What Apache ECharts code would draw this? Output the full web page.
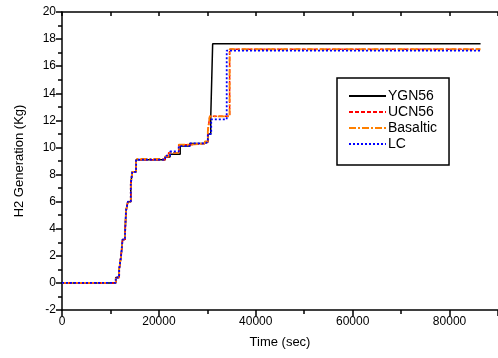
<!DOCTYPE html>
<html>
<head>
<meta charset="utf-8">
<script src="https://cdn.jsdelivr.net/npm/echarts@6/dist/echarts.min.js"></script>
<style>
  html, body { margin: 0; padding: 0; background: #fff; }
  #ec { width: 498px; height: 358px; }
</style>
</head>
<body>
<div id="ec"></div>
<script>
// values: time (sec) where each step happens, new level (Kg)
var ygnTime = [0, 11100, 11800, 12200, 12500, 13000, 13200, 13600, 14200, 14500, 15300, 20600, 21300, 22300, 24400, 26400, 29500, 30100, 30700, 31100, 86400];
var ygnVal  = [0, 0.4, 1.0, 2.0, 3.2, 3.5, 5.3, 6.0, 7.3, 8.2, 9.1, 9.1, 9.3, 9.5, 10.1, 10.3, 10.4, 11.0, 12.2, 17.65, 17.65];

var ucnTime = [0, 11100, 11800, 12200, 12500, 13000, 13200, 13600, 14200, 14500, 15300, 20600, 21300, 22000, 24100, 26400, 29500, 30100, 30500, 34600, 86400];
var ucnVal  = [0, 0.4, 1.0, 2.0, 3.2, 3.5, 5.3, 6.0, 7.3, 8.2, 9.1, 9.1, 9.3, 9.6, 10.2, 10.3, 10.4, 11.2, 12.3, 17.25, 17.25];

var basTime = [0, 11100, 11800, 12200, 12500, 13000, 13200, 13600, 14200, 14500, 15300, 20600, 21300, 22000, 24100, 26400, 29500, 30100, 30500, 34600, 86400];
var basVal  = [0, 0.4, 1.0, 2.0, 3.2, 3.5, 5.3, 6.0, 7.3, 8.2, 9.15, 9.15, 9.35, 9.6, 10.2, 10.3, 10.45, 11.2, 12.3, 17.25, 17.25];

var lcTime = [0, 11100, 11800, 12200, 12500, 13000, 13200, 13600, 14200, 14500, 15300, 20600, 21300, 22300, 24100, 26400, 29500, 30100, 30800, 34000, 86400];
var lcVal  = [0, 0.4, 1.0, 2.0, 3.2, 3.5, 5.3, 6.0, 7.3, 8.2, 9.1, 9.1, 9.4, 9.7, 10.1, 10.3, 10.4, 11.0, 12.07, 17.15, 17.15];

var seriesNames = ['YGN56', 'UCN56', 'Basaltic', 'LC'];
var yTicks = [-2, 0, 2, 4, 6, 8, 10, 12, 14, 16, 18, 20];

function pairs(t, v) {
    return t.map(function (x, i) { return [x, v[i]]; });
}

var myChart = echarts.init(document.getElementById('ec'));
var font = 'Liberation Sans, Arial, sans-serif';

function mkSeries(name, t, v, color, type, width) {
    return {
        name: name,
        type: 'line',
        step: 'end',
        symbol: 'none',
        data: pairs(t, v),
        lineStyle: { color: color, width: width, type: type },
        itemStyle: { color: color },
        animation: false
    };
}

var option = {
    backgroundColor: '#fff',
    textStyle: { fontFamily: font },
    grid: { left: 62, top: 12, right: 0, bottom: 48, containLabel: false, outerBoundsMode: 'none' },
    legend: {
        orient: 'vertical',
        left: 337,
        top: 78,
        padding: [11, 12, 14, 11],
        itemGap: 2,
        itemWidth: 37,
        itemHeight: 14,
        borderColor: '#000',
        borderWidth: 1.5,
        itemStyle: { color: 'transparent', borderWidth: 0 },
        textStyle: { fontSize: 14, color: '#000', fontFamily: font, padding: [0, 0, 0, -3] },
        data: seriesNames
    },
    xAxis: [{
        type: 'value',
        min: 0,
        max: 90000,
        interval: 20000,
        name: 'Time (sec)',
        nameLocation: 'middle',
        nameGap: 26,
        nameTextStyle: { fontSize: 13, color: '#000', fontFamily: font },
        axisLine: { onZero: false, lineStyle: { color: '#000', width: 1.5 } },
        axisTick: { inside: false, length: 6, lineStyle: { color: '#000', width: 1.5 } },
        minorTick: { show: true, splitNumber: 2, length: 4, lineStyle: { color: '#000', width: 1.5 } },
        axisLabel: { fontSize: 12, color: '#000', margin: 6, fontFamily: font, showMaxLabel: false,
            formatter: function (v) { return v >= 90000 ? '' : String(v); } },
        splitLine: { show: false }
    }, {
        type: 'value',
        position: 'top',
        min: 0,
        max: 90000,
        interval: 10000,
        axisLine: { onZero: false, lineStyle: { color: '#000', width: 1.5 } },
        axisTick: { inside: true, length: 4, lineStyle: { color: '#000', width: 1.5 } },
        axisLabel: { show: false },
        splitLine: { show: false }
    }],
    yAxis: {
        type: 'value',
        min: yTicks[0],
        max: yTicks[yTicks.length - 1],
        interval: 2,
        name: 'H2 Generation (Kg)',
        nameLocation: 'middle',
        nameGap: 36,
        nameTextStyle: { fontSize: 13, color: '#000', fontFamily: font },
        axisLine: { onZero: false, lineStyle: { color: '#000', width: 1.5 } },
        axisTick: { inside: false, length: 6, lineStyle: { color: '#000', width: 1.5 } },
        minorTick: { show: true, splitNumber: 2, length: 4, lineStyle: { color: '#000', width: 1.5 } },
        axisLabel: { fontSize: 12, color: '#000', margin: 6, fontFamily: font },
        splitLine: { show: false }
    },
    series: [
        mkSeries('YGN56', ygnTime, ygnVal, '#000000', 'solid', 1.5),
        mkSeries('UCN56', ucnTime, ucnVal, '#ff0000', [4, 2], 1.5),
        mkSeries('Basaltic', basTime, basVal, '#ff8000', [7, 2, 2, 2], 1.8),
        mkSeries('LC', lcTime, lcVal, '#0000ff', [2, 2], 1.8)
    ]
};

myChart.setOption(option);
</script>
</body>
</html>
